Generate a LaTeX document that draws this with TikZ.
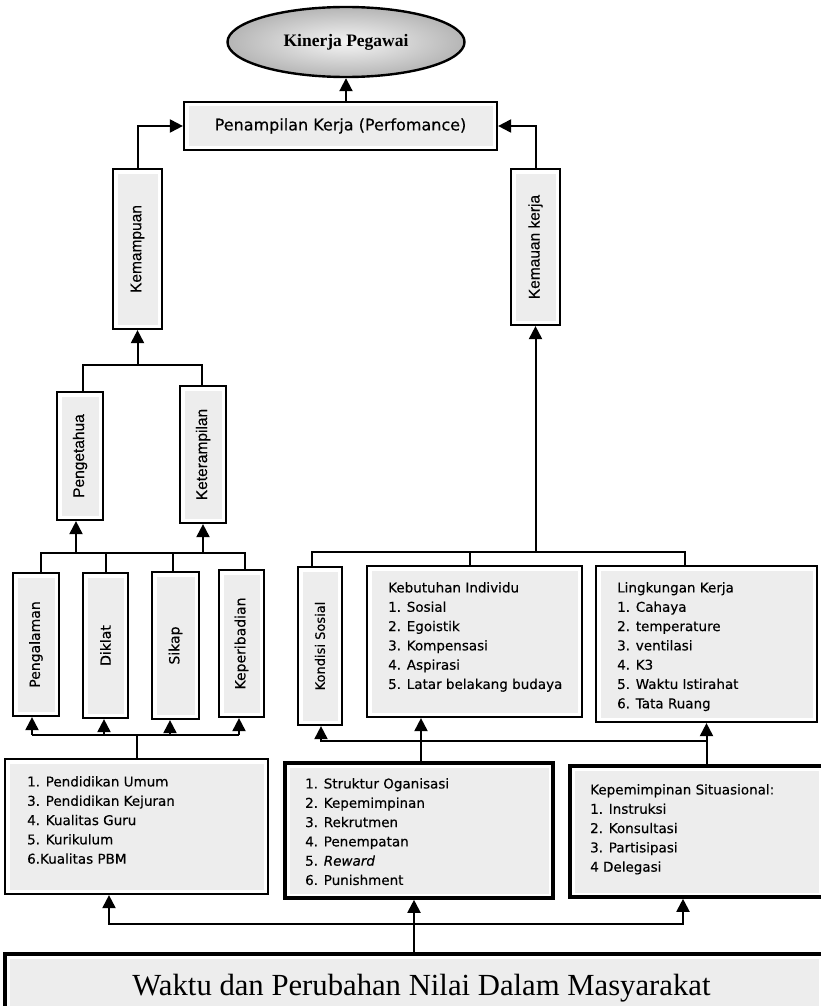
\documentclass[tikz,border=0pt]{standalone}
\usepackage{fontspec}
\newfontfamily\dv{DejaVu Sans}[BoldFont={DejaVu Sans}, BoldFeatures={FakeBold=0.35}, BoldItalicFont={DejaVu Sans Oblique}, BoldItalicFeatures={FakeBold=0.35}]
\newfontfamily\lib{Liberation Sans}[BoldFont={Liberation Sans}, BoldFeatures={FakeBold=0.35}]
\newfontfamily\libserif{Liberation Serif}
\usetikzlibrary{arrows.meta,shapes.geometric,calc}
\definecolor{boxgray}{HTML}{EDEDED}
\tikzset{
  gbox/.style={draw, line width=2.2pt, fill=white, inner sep=0pt,
    path picture={\fill[boxgray] ($(path picture bounding box.south west)+(4.5pt,4.5pt)$) rectangle ($(path picture bounding box.north east)+(-4.5pt,-4.5pt)$);}},
  thickbox/.style={gbox, line width=3.6pt},
  conn/.style={line width=2pt},
  arr/.style={line width=2pt, -{Triangle[width=13pt,length=13pt]}},
  vlab/.style={rotate=90, inner sep=0pt, font=\lib\bfseries\fontsize{15.5}{18}\selectfont},
  vlabd/.style={rotate=90, inner sep=0pt, font=\dv\bfseries\fontsize{14}{17}\selectfont},
  listtxt/.style={anchor=north west, inner sep=0pt, align=left, font=\dv\bfseries\fontsize{13.5}{19.3}\selectfont},
}
\begin{document}
\begin{tikzpicture}[x=1pt,y=-1pt]
\useasboundingbox (0,0) rectangle (820,1006);
% top
\node[ellipse, draw, line width=2.4pt, inner color=gray!8, outer color=gray!58, minimum width=237pt, minimum height=70pt, font=\libserif\bfseries\fontsize{17.5}{20}\selectfont] (kin) at (346,42) {Kinerja Pegawai};
\node[gbox, minimum width=313pt, minimum height=48pt, font=\dv\bfseries\fontsize{16}{19}\selectfont] (pen) at (340.5,126) {Penampilan Kerja (Perfomance)};
% left column
\node[gbox, minimum width=49pt, minimum height=160pt] (kemampuan) at (137.5,249) {};
\node[vlab] (tkemampuan) at (kemampuan.center) {Kemampuan};
\node[gbox, minimum width=49pt, minimum height=156pt] (kemauan) at (535.5,247) {};
\node[vlab] (tkemauan) at (kemauan.center) {Kemauan kerja};
\node[gbox, minimum width=46pt, minimum height=128pt] (pengetahua) at (80,456) {};
\node[vlab] (tpengetahua) at (pengetahua.center) {Pengetahua};
\node[gbox, minimum width=46pt, minimum height=137pt] (keterampilan) at (203,454.5) {};
\node[vlab] (tketerampilan) at (keterampilan.center) {Keterampilan};
% four small
\node[gbox, minimum width=46pt, minimum height=143pt] (pengalaman) at (36,644.5) {};
\node[vlabd] (tpengalaman) at (pengalaman.center) {Pengalaman};
\node[gbox, minimum width=45pt, minimum height=145pt] (diklat) at (105.5,645.5) {};
\node[vlabd] (tdiklat) at (diklat.center) {Diklat};
\node[gbox, minimum width=47pt, minimum height=147pt] (sikap) at (175.5,645.5) {};
\node[vlabd] (tsikap) at (sikap.center) {Sikap};
\node[gbox, minimum width=45pt, minimum height=147pt] (keperibadian) at (241.5,643.5) {};
\node[vlabd] (tkeperibadian) at (keperibadian.center) {Keperibadian};
% right middle
\node[gbox, minimum width=44pt, minimum height=158pt] (kondisi) at (320,646) {};
\node[vlabd, font=\dv\bfseries\fontsize{13}{16}\selectfont] (tkondisi) at (kondisi.center) {Kondisi Sosial};
\node[gbox, minimum width=215pt, minimum height=151pt] (kebutuhan) at (474.5,641.5) {};
\node[listtxt] (tkebutuhan) at (388,582) {Kebutuhan Individu\\1. Sosial\\2. Egoistik\\3. Kompensasi\\4. Aspirasi\\5. Latar belakang budaya};
\node[gbox, minimum width=221pt, minimum height=156pt] (lingkungan) at (706.5,644) {};
\node[listtxt] (tlingkungan) at (617,582) {Lingkungan Kerja\\1. Cahaya\\2. temperature\\3. ventilasi\\4. K3\\5. Waktu Istirahat\\6. Tata Ruang};
% lower boxes
\node[gbox, minimum width=263pt, minimum height=135pt] (pendidikan) at (136.5,826.5) {};
\node[listtxt] (tpendidikan) at (27,776) {1. Pendidikan Umum\\3. Pendidikan Kejuran\\4. Kualitas Guru\\5. Kurikulum\\6.Kualitas PBM};
\node[thickbox, minimum width=268pt, minimum height=135pt] (struktur) at (419,830.5) {};
\node[listtxt] (tstruktur) at (305,778) {1. Struktur Oganisasi\\2. Kepemimpinan\\3. Rekrutmen\\4. Penempatan\\5. \textit{Reward}\\6. Punishment};
\node[thickbox, minimum width=253pt, minimum height=131pt] (kepsit) at (696.5,831.5) {};
\node[listtxt] (tkepsit) at (590,784) {Kepemimpinan Situasional:\\1. Instruksi\\2. Konsultasi\\3. Partisipasi\\4 Delegasi};
\node[thickbox, minimum width=818pt, minimum height=56pt] (waktu) at (414,982) {};
\node[anchor=base, inner sep=0pt, font=\libserif\fontsize{30.7}{34}\selectfont] (twaktu) at (421.5,995) {Waktu dan Perubahan Nilai Dalam Masyarakat};
% connectors top
\draw[arr] (kin.south |- pen.north) -- (kin.south);
\draw[arr] (kemampuan.north) |- (pen.west);
\draw[arr] (kemauan.north) |- (pen.east);
% left tree
\coordinate (jA) at (137.5,365);
\draw[conn] ([xshift=3pt]pengetahua.north) |- (jA) -| ([xshift=-1pt]keterampilan.north);
\draw[arr] (jA) -- (kemampuan.south);
\coordinate (jB) at (137.5,553);
\draw[conn] ([xshift=5pt]pengalaman.north) |- (jB) -| ([xshift=3.5pt]keperibadian.north);
\draw[conn] (diklat.north) -- (diklat.north |- jB);
\draw[conn] ([xshift=-2.5pt]sikap.north) -- ([xshift=-2.5pt]sikap.north |- jB);
\draw[arr] ([xshift=-4pt]pengetahua.south |- jB) -- ([xshift=-4pt]pengetahua.south);
\draw[arr] (keterampilan.south |- jB) -- (keterampilan.south);
\coordinate (jC) at (137,735);
\draw[conn] ([xshift=-4pt]pengalaman.south |- jC) -- ([xshift=-2.5pt]keperibadian.south |- jC);
\draw[conn] (pendidikan.north) -- (pendidikan.north |- jC);
\draw[arr] ([xshift=-4pt]pengalaman.south |- jC) -- ([xshift=-4pt]pengalaman.south);
\draw[arr] ([xshift=-1.5pt]diklat.south |- jC) -- ([xshift=-1.5pt]diklat.south);
\draw[arr] ([xshift=-5.5pt]sikap.south |- jC) -- ([xshift=-5.5pt]sikap.south);
\draw[arr] ([xshift=-2.5pt]keperibadian.south |- jC) -- ([xshift=-2.5pt]keperibadian.south);
% right tree
\coordinate (jD) at (535.5,552);
\draw[conn] ([xshift=-8pt]kondisi.north) |- (jD) -| ([xshift=-21.5pt]lingkungan.north);
\draw[conn] ([xshift=-4.5pt]kebutuhan.north) -- ([xshift=-4.5pt]kebutuhan.north |- jD);
\draw[arr] (jD) -- (kemauan.south);
\coordinate (jE) at (706,741);
\draw[arr] (lingkungan.south |- kepsit.north) -- (lingkungan.south);
\draw[arr] (jE) -| ([xshift=1pt]kondisi.south);
\draw[arr] ([xshift=2pt]struktur.north) -- ([xshift=2pt]struktur.north |- kebutuhan.south);
% bottom
\coordinate (jF) at (414,924);
\draw[arr] (struktur.south |- waktu.north) ++(-5pt,0) -- ([xshift=-5pt]struktur.south);
\draw[arr] (jF) -| ([xshift=-27.5pt]pendidikan.south);
\draw[arr] (jF) -| ([xshift=-13.5pt]kepsit.south);
\end{tikzpicture}
\end{document}
